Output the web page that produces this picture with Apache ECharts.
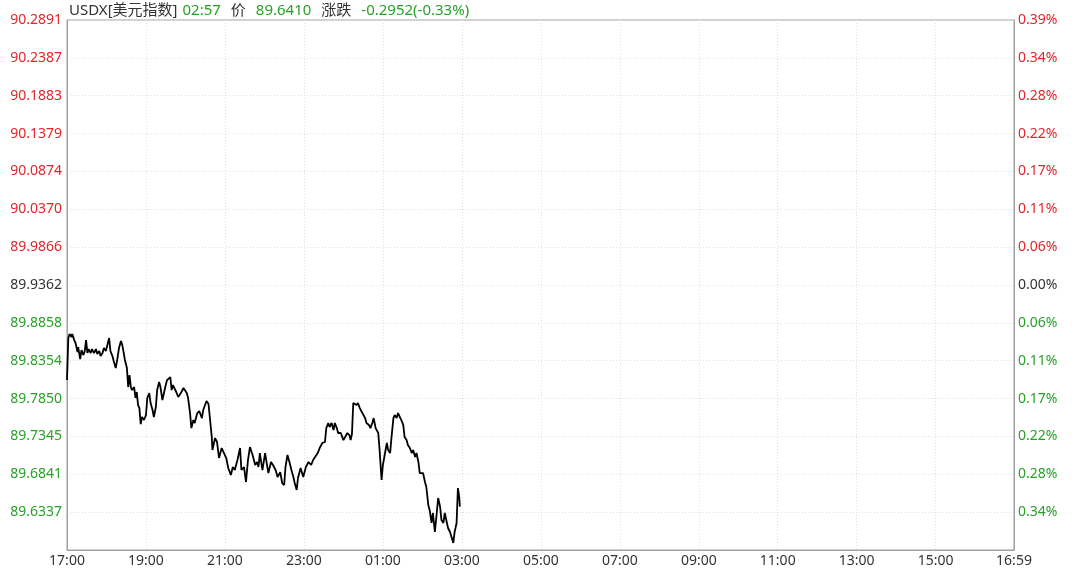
<!DOCTYPE html>
<html>
<head>
<meta charset="utf-8">
<script src="https://cdn.jsdelivr.net/npm/echarts@6/dist/echarts.min.js"></script>
<style>
  html, body { margin: 0; padding: 0; background: #fff; }
  #chart { width: 1080px; height: 572px; }
</style>
</head>
<body>
<div id="chart"></div>
<script>
// minutes after 17:00 and the index value at that minute
const minutes = [0, 2, 4, 7, 8, 11, 13, 16, 17, 20, 22, 25, 27, 29, 31, 33, 36, 38, 41, 44,
  46, 49, 51, 54, 56, 59, 61, 64, 66, 69, 71, 74, 76, 79, 82, 84, 86, 88, 91, 93,
  95, 97, 99, 102, 104, 106, 108, 110, 112, 114, 117, 120, 122, 125, 127, 130, 132, 135, 137, 140,
  142, 145, 147, 149, 152, 157, 159, 161, 166, 169, 173, 177, 182, 184, 187, 189, 192, 194, 198, 201,
  205, 207, 212, 215, 217, 220, 221, 225, 228, 231, 235, 238, 242, 245, 249, 252, 255, 259, 263, 265,
  269, 272, 275, 278, 282, 286, 289, 291, 293, 297, 301, 303, 306, 310, 313, 317, 320, 324, 327, 330,
  332, 335, 338, 341, 344, 346, 349, 351, 355, 359, 363, 367, 371, 374, 377, 381, 384, 388, 392, 394,
  397, 399, 402, 405, 407, 410, 412, 416, 420, 423, 426, 429, 431, 433, 435, 437, 440, 442, 445, 448,
  450, 453, 455, 459, 461, 464, 466, 469, 473, 475, 478, 480, 483, 486, 488, 491, 493, 496, 498, 501,
  503, 506, 508, 511, 513, 516, 518, 521, 524, 526, 529, 531, 534, 536, 539, 541, 544, 546, 549, 551,
  554, 556, 559, 562, 564, 567, 569, 572, 574, 577, 579, 582, 584, 587, 589, 592, 594, 596, 597]
const prices = [89.8096, 89.8655, 89.8709, 89.8669, 89.8709, 89.8629, 89.8589, 89.8469, 89.8536, 89.8376,
  89.8496, 89.8429, 89.8482, 89.8629, 89.8456, 89.8509, 89.8456, 89.8509, 89.8456, 89.8509,
  89.8442, 89.8482, 89.8416, 89.8456, 89.8522, 89.8482, 89.8549, 89.8655, 89.8482, 89.8416,
  89.8349, 89.8256, 89.8349, 89.8522, 89.8615, 89.8562, 89.8469, 89.8363, 89.8256, 89.8003,
  89.8163, 89.8003, 89.7963, 89.8003, 89.7857, 89.7937, 89.7763, 89.7723, 89.7510, 89.7604,
  89.7564, 89.7630, 89.7857, 89.7923, 89.7790, 89.7697, 89.7604, 89.7737, 89.7963, 89.8070,
  89.8003, 89.7830, 89.7817, 89.7990, 89.8096, 89.8136, 89.7963, 89.8030, 89.7937, 89.7870,
  89.7923, 89.7990, 89.7923, 89.7857, 89.7657, 89.7457, 89.7564, 89.7524, 89.7657, 89.7684,
  89.7590, 89.7697, 89.7817, 89.7777, 89.7604, 89.7337, 89.7164, 89.7324, 89.7271, 89.7058,
  89.7191, 89.7204, 89.7058, 89.6925, 89.6832, 89.6938, 89.6898, 89.7031, 89.7191, 89.6898,
  89.6938, 89.6738, 89.7031, 89.7204, 89.7098, 89.6965, 89.7005, 89.6938, 89.7124, 89.6898,
  89.7124, 89.7098, 89.6858, 89.7005, 89.6965, 89.6898, 89.6805, 89.6871, 89.6725, 89.6698,
  89.6938, 89.7098, 89.7005, 89.6898, 89.6805, 89.6725, 89.6632, 89.6792, 89.6925, 89.6805,
  89.6938, 89.7005, 89.6965, 89.7031, 89.7071, 89.7124, 89.7191, 89.7258, 89.7271, 89.7457,
  89.7524, 89.7471, 89.7524, 89.7431, 89.7524, 89.7457, 89.7391, 89.7391, 89.7297, 89.7271,
  89.7391, 89.7364, 89.7297, 89.7377, 89.7790, 89.7803, 89.7763, 89.7790, 89.7723, 89.7670,
  89.7657, 89.7590, 89.7524, 89.7497, 89.7457, 89.7524, 89.7590, 89.7457, 89.7391, 89.7164,
  89.6765, 89.6965, 89.6991, 89.7258, 89.7164, 89.7124, 89.7324, 89.7590, 89.7630, 89.7590,
  89.7657, 89.7670, 89.7564, 89.7497, 89.7337, 89.7297, 89.7231, 89.7191, 89.7124, 89.7164,
  89.7071, 89.7124, 89.7005, 89.6858, 89.6832, 89.6858, 89.6738, 89.6672, 89.6432, 89.6366,
  89.6193, 89.6326, 89.6073, 89.6339, 89.6525, 89.6406, 89.6232, 89.6193, 89.6326, 89.6339,
  89.6126, 89.6073, 89.6059, 89.5926, 89.6073, 89.6193, 89.6658, 89.6539, 89.6410]

// axis labels, bottom to top (bottom one is not drawn)
const priceLabels = ['', '89.6337', '89.6841', '89.7345', '89.7850', '89.8354', '89.8858', '89.9362',
  '89.9866', '90.0370', '90.0874', '90.1379', '90.1883', '90.2387', '90.2891']
const pctLabels = ['', '0.34%', '0.28%', '0.22%', '0.17%', '0.11%', '0.06%', '0.00%',
  '0.06%', '0.11%', '0.17%', '0.22%', '0.28%', '0.34%', '0.39%']
const timeLabels = ['17:00', '19:00', '21:00', '23:00', '01:00', '03:00', '05:00', '07:00',
  '09:00', '11:00', '13:00', '15:00', '16:59']

const yMin = 89.5833
const yMax = 90.2891
const yStep = (yMax - yMin) / 14
const baseIdx = 7
const RED = '#e4252b'
const GREEN = '#27a227'
const DARK = '#333333'
const FONT = "'Noto Sans', 'Noto Sans CJK SC', sans-serif"

const chart = echarts.init(document.getElementById('chart'))
const idxOf = v => Math.round((v - yMin) / yStep)
const labelColor = v => {
  const i = idxOf(v)
  return i > baseIdx ? RED : (i < baseIdx ? GREEN : DARK)
}
const yAxisCommon = {
  type: 'value',
  min: yMin,
  max: yMax,
  interval: yStep,
  axisTick: { show: false },
  axisLine: { show: true, lineStyle: { color: '#a0a0a0', width: 1 } }
}

const option = {
  animation: false,
  title: {
    left: 64,
    top: -3,
    text: '{a|USDX[美元指数]} {g|02:57}  {a|价}  {g|89.6410}  {a|涨跌}  {g|-0.2952(-0.33%)}',
    textStyle: {
      fontWeight: 'normal',
      rich: {
        a: { color: DARK, fontSize: 15, fontWeight: 'normal', fontFamily: FONT },
        g: { color: GREEN, fontSize: 15, fontWeight: 'normal', fontFamily: FONT }
      }
    }
  },
  grid: {
    left: 67,
    right: 66,
    top: 20,
    bottom: 22,
    show: true,
    borderColor: '#a0a0a0',
    borderWidth: 1
  },
  xAxis: {
    type: 'value',
    min: 0,
    max: 1439,
    interval: 120,
    axisTick: { show: false },
    axisLine: { show: true, lineStyle: { color: '#a0a0a0' } },
    axisLabel: {
      color: DARK,
      fontSize: 14,
      fontFamily: FONT,
      margin: 4,
      showMaxLabel: true,
      formatter: v => (v >= 1439 ? timeLabels[timeLabels.length - 1] : timeLabels[Math.round(v / 120)])
    },
    splitLine: { show: true, lineStyle: { color: '#e0e0e0', type: [1, 2] } }
  },
  yAxis: [
    Object.assign({}, yAxisCommon, {
      position: 'left',
      axisLabel: {
        fontSize: 14,
        fontFamily: FONT,
        margin: 5,
        color: labelColor,
        formatter: v => priceLabels[idxOf(v)]
      },
      splitLine: { show: true, lineStyle: { color: '#e0e0e0', type: [1, 2] } }
    }),
    Object.assign({}, yAxisCommon, {
      position: 'right',
      axisLabel: {
        fontSize: 14,
        fontFamily: FONT,
        margin: 4,
        color: labelColor,
        formatter: v => pctLabels[idxOf(v)]
      },
      splitLine: { show: false }
    })
  ],
  series: [
    {
      type: 'line',
      data: minutes.map((m, i) => [m, prices[i]]),
      showSymbol: false,
      lineStyle: { color: '#000', width: 1.8 },
      z: 5
    }
  ]
}
chart.setOption(option)
</script>
</body>
</html>
